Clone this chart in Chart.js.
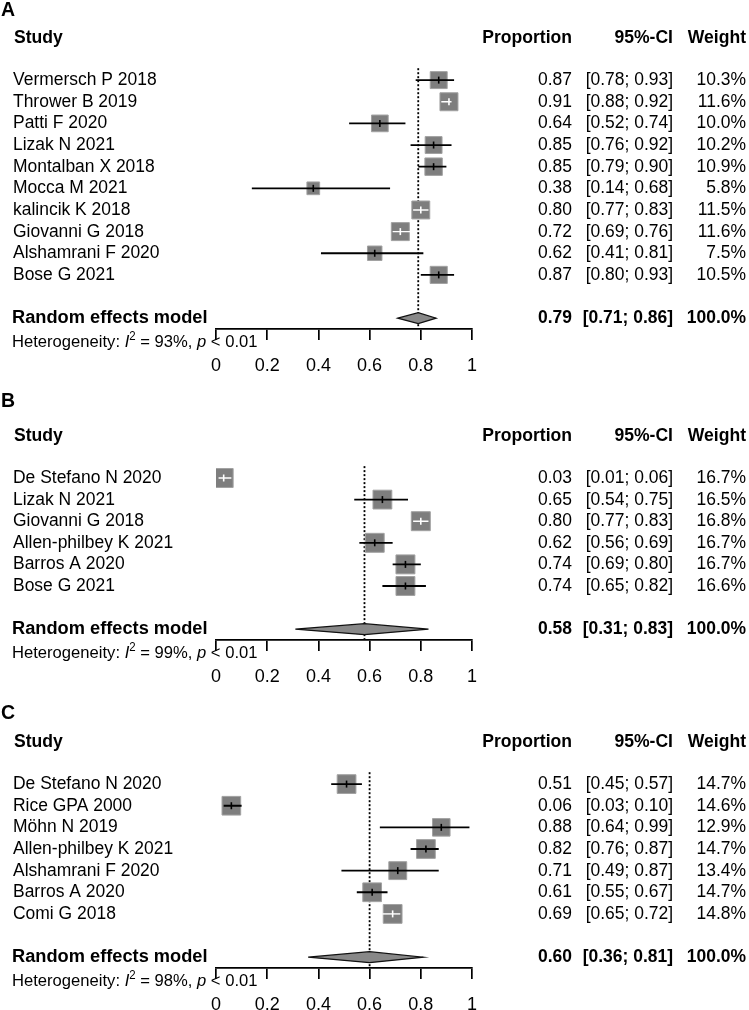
<!DOCTYPE html>
<html><head><meta charset="utf-8">
<script src="https://cdn.jsdelivr.net/npm/chart.js@4.4.1/dist/chart.umd.min.js"></script>
<style>
html,body{margin:0;padding:0;background:#fff;width:749px;height:1010px;overflow:hidden;position:relative;}
canvas{position:absolute;left:0;}
</style></head><body>
<canvas id="cA"></canvas><canvas id="cB"></canvas><canvas id="cC"></canvas>
<script>
// ---------- DATA ----------
const tickLabels = ['0', '0.2', '0.4', '0.6', '0.8', '1'];

const studiesA = ['Vermersch P 2018','Thrower B 2019','Patti F 2020','Lizak N 2021','Montalban X 2018','Mocca M 2021','kalincik K 2018','Giovanni G 2018','Alshamrani F 2020','Bose G 2021'];
const propA    = [0.87, 0.91, 0.64, 0.85, 0.85, 0.38, 0.80, 0.72, 0.62, 0.87];
const lowerA   = [0.78, 0.88, 0.52, 0.76, 0.79, 0.14, 0.77, 0.69, 0.41, 0.80];
const upperA   = [0.93, 0.92, 0.74, 0.92, 0.90, 0.68, 0.83, 0.76, 0.81, 0.93];
const weightA  = [10.3, 11.6, 10.0, 10.2, 10.9, 5.8, 11.5, 11.6, 7.5, 10.5];
const insideA  = [false, true, false, false, false, false, true, true, false, false];
const pooledA  = [0.79, 0.71, 0.86];
const i2A = 93, pA = '< 0.01';

const studiesB = ['De Stefano N 2020','Lizak N 2021','Giovanni G 2018','Allen-philbey K 2021','Barros A 2020','Bose G 2021'];
const propB    = [0.03, 0.65, 0.80, 0.62, 0.74, 0.74];
const lowerB   = [0.01, 0.54, 0.77, 0.56, 0.69, 0.65];
const upperB   = [0.06, 0.75, 0.83, 0.69, 0.80, 0.82];
const weightB  = [16.7, 16.5, 16.8, 16.7, 16.7, 16.6];
const insideB  = [true, false, true, false, false, false];
const pooledB  = [0.58, 0.31, 0.83];
const i2B = 99, pB = '< 0.01';

const studiesC = ['De Stefano N 2020','Rice GPA 2000','Möhn N 2019','Allen-philbey K 2021','Alshamrani F 2020','Barros A 2020','Comi G 2018'];
const propC    = [0.51, 0.06, 0.88, 0.82, 0.71, 0.61, 0.69];
const lowerC   = [0.45, 0.03, 0.64, 0.76, 0.49, 0.55, 0.65];
const upperC   = [0.57, 0.10, 0.99, 0.87, 0.87, 0.67, 0.72];
const weightC  = [14.7, 14.6, 12.9, 14.7, 13.4, 14.7, 14.8];
const insideC  = [false, false, false, false, false, false, true];
const pooledC  = [0.60, 0.36, 0.81];
const i2C = 98, pC = '< 0.01';

// ---------- LAYOUT / STYLE ----------
const FAM = "'Liberation Sans', Arial, Helvetica, sans-serif";
const SX = 0.955;           // slight horizontal condensing of the text
const FS = 18.3;
const f = (size, weight, style) => `${style || 'normal'} ${weight || 'normal'} ${size}px ${FAM}`;

const panels = [
  {canvas:'cA', top:0,   height:379, padTop:26, letter:'A', letterY:11, maxSide:18,
   studies:studiesA, prop:propA, lower:lowerA, upper:upperA, weight:weightA, inside:insideA, pooled:pooledA, i2:i2A, p:pA},
  {canvas:'cB', top:390, height:300, padTop:34, letter:'B', letterY:12, maxSide:19,
   studies:studiesB, prop:propB, lower:lowerB, upper:upperB, weight:weightB, inside:insideB, pooled:pooledB, i2:i2B, p:pB},
  {canvas:'cC', top:700, height:318, padTop:30, letter:'C', letterY:14, maxSide:18.8,
   studies:studiesC, prop:propC, lower:lowerC, upper:upperC, weight:weightC, inside:insideC, pooled:pooledC, i2:i2C, p:pC}
];

const COL_PROP = 572, COL_CI = 673, COL_W = 746;

// draw text condensed horizontally; returns advance width
function txt(ctx, s, x, y, align, font, sx) {
  sx = sx || SX;
  ctx.save();
  ctx.font = font;
  ctx.textAlign = align;
  ctx.textBaseline = 'middle';
  ctx.translate(x, y);
  ctx.scale(sx, 1);
  ctx.fillText(s, 0, 0);
  const w = ctx.measureText(s).width * sx;
  ctx.restore();
  return w;
}

function forestPlugin(p) {
  const n = p.studies.length;
  return {
    id: 'forest' + p.letter,
    beforeDatasetsDraw(chart) {
      const {ctx, chartArea} = chart;
      const xs = chart.scales.x, ys = chart.scales.y;
      ctx.save();
      ctx.setLineDash([2, 2]);
      ctx.lineWidth = 1.8;
      ctx.strokeStyle = '#000';
      const px = xs.getPixelForValue(p.pooled[0]);
      ctx.beginPath();
      ctx.moveTo(px, ys.getPixelForValue(-0.55));
      ctx.lineTo(px, chartArea.bottom);
      ctx.stroke();
      ctx.restore();
    },
    afterDatasetsDraw(chart) {
      const {ctx, chartArea} = chart;
      const xs = chart.scales.x, ys = chart.scales.y;
      ctx.save();
      // diamond
      const yd = ys.getPixelForValue(n + 1);
      const xl = xs.getPixelForValue(p.pooled[1]);
      const xe = xs.getPixelForValue(p.pooled[0]);
      const xh = xs.getPixelForValue(p.pooled[2]);
      ctx.beginPath();
      ctx.moveTo(xl, yd); ctx.lineTo(xe, yd - 5.5); ctx.lineTo(xh, yd); ctx.lineTo(xe, yd + 5.5); ctx.closePath();
      ctx.fillStyle = '#888888'; ctx.fill();
      ctx.lineWidth = 1.2; ctx.strokeStyle = '#111'; ctx.stroke();

      // texts
      ctx.fillStyle = '#000';
      txt(ctx, p.letter, 1, p.letterY, 'left', f(19.5, 'bold'), 1);

      const yh = ys.getPixelForValue(-1.95);
      const hb = f(18.4, 'bold');
      txt(ctx, 'Study', 14, yh, 'left', hb);
      txt(ctx, 'Proportion', COL_PROP, yh, 'right', hb);
      txt(ctx, '95%-CI', COL_CI, yh, 'right', hb);
      txt(ctx, 'Weight', COL_W, yh, 'right', hb);

      const fr = f(FS);
      p.studies.forEach((s, i) => {
        const y = ys.getPixelForValue(i);
        txt(ctx, s, 13, y, 'left', fr);
        txt(ctx, p.prop[i].toFixed(2), COL_PROP, y, 'right', fr);
        txt(ctx, '[' + p.lower[i].toFixed(2) + '; ' + p.upper[i].toFixed(2) + ']', COL_CI, y, 'right', fr);
        txt(ctx, p.weight[i].toFixed(1) + '%', COL_W, y, 'right', fr);
      });

      txt(ctx, 'Random effects model', 12, yd, 'left', f(19.1, 'bold'));
      const fb = f(FS, 'bold');
      txt(ctx, p.pooled[0].toFixed(2), COL_PROP, yd, 'right', fb);
      txt(ctx, '[' + p.pooled[1].toFixed(2) + '; ' + p.pooled[2].toFixed(2) + ']', COL_CI, yd, 'right', fb);
      txt(ctx, '100.0%', COL_W, yd, 'right', fb);

      // heterogeneity
      let hx = 12;
      const hy = chartArea.bottom + 13.5;
      const HS = 17.4;
      hx += txt(ctx, 'Heterogeneity: ', hx, hy, 'left', f(HS));
      hx += txt(ctx, 'I', hx, hy, 'left', f(HS, 'normal', 'italic'));
      hx += txt(ctx, '2', hx, hy - 6, 'left', f(12));
      hx += txt(ctx, ' = ' + p.i2 + '%, ', hx, hy, 'left', f(HS));
      hx += txt(ctx, 'p', hx, hy, 'left', f(HS, 'normal', 'italic'));
      txt(ctx, ' ' + p.p, hx, hy, 'left', f(HS));
      ctx.restore();
    }
  };
}

function build(p) {
  const n = p.studies.length;
  const wmax = Math.max(...p.weight);
  const sides = p.weight.map(w => p.maxSide * Math.sqrt(w / wmax));
  const ciBlack = [], ciWhite = [];
  p.prop.forEach((v, i) => {
    const arr = p.inside[i] ? ciWhite : ciBlack;
    arr.push({x: p.lower[i], y: i}, {x: p.upper[i], y: i}, {x: null, y: null});
  });
  const el = document.getElementById(p.canvas);
  el.width = 749; el.height = p.height;
  el.style.width = '749px'; el.style.height = p.height + 'px';
  el.style.top = p.top + 'px';
  new Chart(el, {
    type: 'scatter',
    data: {datasets: [
      {data: p.prop.map((v, i) => ({x: v, y: i})), pointStyle: 'rect',
       pointRadius: sides.map(s => s / Math.SQRT2), backgroundColor: '#7e7e7e', borderColor: '#a2a2a2', borderWidth: 1, order: 3},
      {data: ciBlack, showLine: true, pointRadius: 0, borderColor: '#000', borderWidth: 1.8, spanGaps: false, order: 2},
      {data: ciWhite, showLine: true, pointRadius: 0, borderColor: '#fff', borderWidth: 1.4, spanGaps: false, order: 2},
      {data: p.prop.map((v, i) => ({x: v, y: i})), pointStyle: 'line', rotation: 90, pointRadius: 3.5,
       borderColor: p.inside.map(b => b ? '#fff' : '#000'), backgroundColor: 'rgba(0,0,0,0)', borderWidth: 1.6, order: 1}
    ]},
    options: {
      responsive: false, animation: false, events: [],
      layout: {padding: {top: p.padTop, left: 216, right: 277, bottom: 4}},
      plugins: {legend: {display: false}, tooltip: {enabled: false}},
      scales: {
        x: {type: 'linear', min: 0, max: 1, position: 'bottom',
            grid: {drawOnChartArea: false, drawTicks: true, tickLength: 11, color: '#000', lineWidth: 1.7},
            border: {display: true, color: '#000', width: 1.7},
            ticks: {stepSize: 0.2, color: '#000', padding: 15.5, font: {family: FAM, size: 18},
                    callback: (v, i) => tickLabels[i]},
            afterFit: s => { s.height = 46; }},
        y: {type: 'linear', reverse: true, min: -2.5, max: n + 1.5, display: false}
      }
    },
    plugins: [forestPlugin(p)]
  });
}
panels.forEach(build);
</script>
</body></html>
